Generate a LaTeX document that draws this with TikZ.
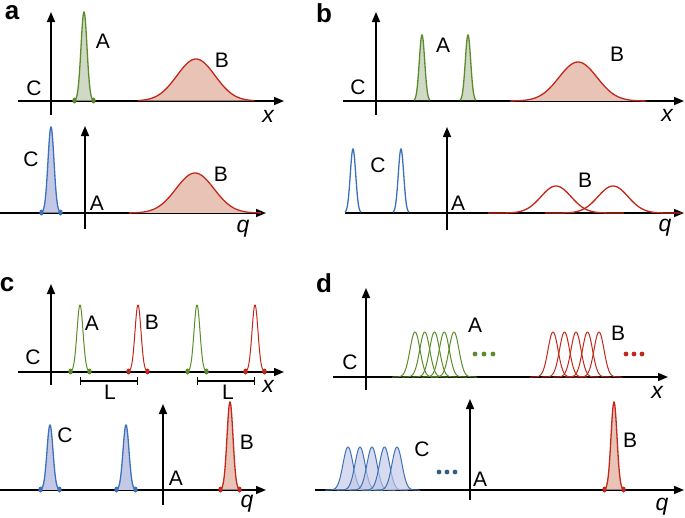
\documentclass[tikz,border=0pt]{standalone}
\usepackage{fontspec}
\setmainfont{Liberation Sans}
\usetikzlibrary{arrows.meta}
\definecolor{PkGreen}{HTML}{5B8C2A}
\definecolor{PkGreenFill}{HTML}{CFD9C6}
\definecolor{PkBlue}{HTML}{3B72B9}
\definecolor{PkBlueFill}{HTML}{C3C8E6}
\definecolor{PkRed}{HTML}{C1281B}
\definecolor{PkRedFill}{HTML}{E9C3B5}
\definecolor{DotBlue}{HTML}{2F5F86}

% gaussian peak: [style]{centre}{base}{height}{sigma}{half width}
\newcommand{\gpeak}[6][]{%
  \draw[#1] plot[domain=#2-#6:#2+#6,samples=90,smooth]
    (\x,{#3-#4*exp(-((\x-#2)/#5)^2/2)});}
% narrow peak with little feet: [style]{centre}{base}{height}{colour}
\newcommand{\npeak}[5][]{%
  \gpeak[#5,#1]{#2}{#3}{#4}{3}{10}
  \fill[#5] (#2-9.5,#3-0.5) ellipse (2.2 and 3) (#2+9.5,#3-0.5) ellipse (2.2 and 3);}

\begin{document}
\begin{tikzpicture}[x=1pt,y=-1pt,
  axis/.style={line width=1.5pt,-{Triangle[length=10pt,width=8pt]}},
  vaxis/.style={line width=1.5pt,-{Triangle[length=10pt,width=8pt]}},
  lbl/.style={font=\fontsize{21}{21}\selectfont},
  var/.style={font=\fontsize{23}{23}\selectfont\itshape},
  panel/.style={font=\fontsize{26}{26}\selectfont\bfseries},
  curve/.style={line width=1.3pt},
  thin curve/.style={line width=1pt},
  bar/.style={line width=1.3pt,|-|}
]
  \useasboundingbox (0,0) rectangle (685,517);

  %% panel a
  \node[panel] (pa) at (12,13) {a};
  \draw[axis] (18,101) -- (284,101);
  \draw[vaxis] (51,115) -- (51,12);
  \npeak[curve,fill=PkGreenFill]{84}{101}{89}{PkGreen}
  \gpeak[curve,PkRed,fill=PkRedFill]{196}{101}{42}{19}{58}
  \node[lbl] (aA) at (103,41) {A};
  \node[lbl] (aB) at (222,60) {B};
  \node[lbl] (aC) at (34,88) {C};
  \node[var] (ax) at (268,116) {x};

  \draw[axis] (0,213) -- (266,213);
  \draw[vaxis] (85,229) -- (85,126);
  \npeak[curve,fill=PkBlueFill]{51}{213}{86}{PkBlue}
  \gpeak[curve,PkRed,fill=PkRedFill]{195}{213}{40}{19}{66}
  \node[lbl] (aC2) at (31,159) {C};
  \node[lbl] (aA2) at (97,203) {A};
  \node[lbl] (aB2) at (221,174) {B};
  \node[var] (aq) at (243,229) {q};

  %% panel b
  \node[panel] (pb) at (324,13) {b};
  \draw[axis] (343,101) -- (684,101);
  \draw[vaxis] (376,115) -- (376,12);
  \foreach \c in {422,468}
    \gpeak[curve,PkGreen,fill=PkGreenFill]{\c}{101}{66}{2.7}{8};
  \gpeak[curve,PkRed,fill=PkRedFill]{578}{101}{39}{19}{68}
  \node[lbl] (bA) at (443,45) {A};
  \node[lbl] (bC) at (358,87) {C};
  \node[lbl] (bB) at (617,54) {B};
  \node[var] (bx) at (667,115) {x};

  \draw[axis] (345,213) -- (684,213);
  \draw[vaxis] (447,230) -- (447,127);
  \foreach \c in {353,401}
    \gpeak[curve,PkBlue]{\c}{213}{64}{2.7}{8};
  \gpeak[curve,PkRed]{556}{213}{27}{15}{68}
  \gpeak[curve,PkRed]{613}{213}{27}{15}{68}
  \node[lbl] (bC2) at (378,165) {C};
  \node[lbl] (bA2) at (458,203) {A};
  \node[lbl] (bB2) at (585,180) {B};
  \node[var] (bq) at (665,228) {q};

  %% panel c
  \node[panel] (pc) at (7,285) {c};
  \draw[axis] (18,372) -- (284,372);
  \draw[vaxis] (51,385) -- (51,284);
  \foreach \c in {80,197}
    \npeak[thin curve]{\c}{372}{67}{PkGreen};
  \foreach \c in {138,255}
    \npeak[thin curve]{\c}{372}{67}{PkRed};
  \draw[bar] (80,381) -- (138,381);
  \draw[bar] (197,381) -- (255,381);
  \node[lbl] (cA) at (92,323) {A};
  \node[lbl] (cB) at (152,322) {B};
  \node[lbl] (cC) at (33,357) {C};
  \node[lbl] (cL1) at (110,392) {L};
  \node[lbl] (cL2) at (228,392) {L};
  \node[var] (cx) at (268,386) {x};

  \draw[axis] (0,490) -- (266,490);
  \draw[vaxis] (163,505) -- (163,404);
  \foreach \c in {50,126}
    \npeak[curve,fill=PkBlueFill]{\c}{490}{65}{PkBlue};
  \npeak[curve,fill=PkRedFill]{230}{490}{88}{PkRed}
  \node[lbl] (cC2) at (65,435) {C};
  \node[lbl] (cB2) at (247,442) {B};
  \node[lbl] (cA2) at (176,478) {A};
  \node[var] (cq) at (247,504) {q};

  %% panel d
  \node[panel] (pd) at (324,283) {d};
  \draw[axis] (333,377) -- (668,377);
  \draw[vaxis] (366,390) -- (366,288);
  \foreach \c in {415,424.75,434.5,444.25,454}
    \gpeak[thin curve,PkGreen]{\c}{377}{45}{5}{23};
  \foreach \c in {553,564.5,576,587.5,599}
    \gpeak[thin curve,PkRed]{\c}{377}{45}{5}{23};
  \foreach \c in {475,484,493}
    \fill[PkGreen] (\c,354) circle (2.4);
  \foreach \c in {626,634,642}
    \fill[PkRed] (\c,354) circle (2.4);
  \node[lbl] (dA) at (475,325) {A};
  \node[lbl] (dB) at (618,333) {B};
  \node[lbl] (dC) at (350,362) {C};
  \node[var] (dx) at (657,392) {x};

  \draw[axis] (315,490) -- (684,490);
  \draw[vaxis] (470,500) -- (470,399);
  \foreach \c in {348,360,372,384.5,397}
    \gpeak[thin curve,PkBlue,fill=PkBlueFill,fill opacity=0.65]{\c}{490}{43}{5}{23};
  \foreach \c in {439,447,455}
    \fill[DotBlue] (\c,472) circle (2.4);
  \npeak[curve,fill=PkRedFill]{614}{490}{88}{PkRed}
  \node[lbl] (dC2) at (422,449) {C};
  \node[lbl] (dA2) at (480,479) {A};
  \node[lbl] (dB2) at (630,440) {B};
  \node[var] (dq) at (662,507) {q};
\end{tikzpicture}
\end{document}
